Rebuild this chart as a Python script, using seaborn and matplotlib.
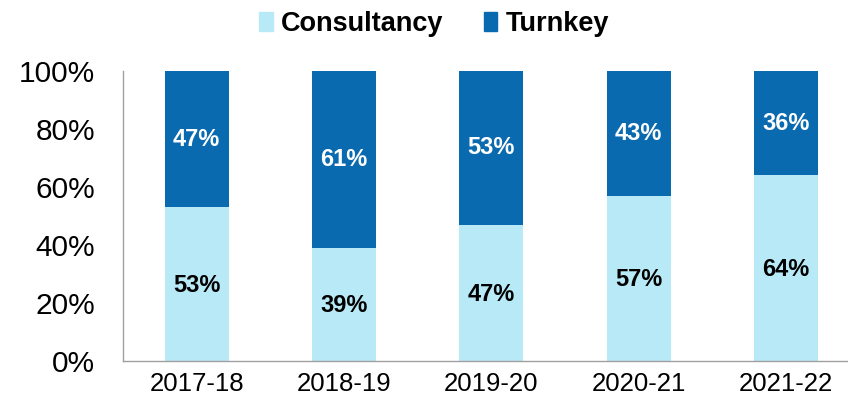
import matplotlib
matplotlib.use("Agg")
import matplotlib.pyplot as plt
import seaborn as sns
import pandas as pd
import numpy as np
from matplotlib.patches import Patch

years = ["2017-18", "2018-19", "2019-20", "2020-21", "2021-22"]
consultancy = [53, 39, 47, 57, 64]
turnkey = [47, 61, 53, 43, 36]

c_light = "#B8E9F6"
c_dark = "#0A6AAF"

sns.set_theme(style="white")
plt.rcParams['font.family'] = ['Liberation Sans', 'DejaVu Sans']
plt.rcParams['text.color'] = 'black'
plt.rcParams['xtick.labelcolor'] = 'black'
plt.rcParams['ytick.labelcolor'] = 'black'

fig = plt.figure(figsize=(8.48, 4.03), dpi=100)
ax = fig.add_axes([123/848, (403-361)/403, (848-123)/848, (361-71)/403])

df = pd.DataFrame({"year": years, "Consultancy": consultancy, "Turnkey": turnkey})
df["total"] = df["Consultancy"] + df["Turnkey"]

sns.barplot(data=df, x="year", y="total", color=c_dark, width=0.435, ax=ax, saturation=1, edgecolor="none")
sns.barplot(data=df, x="year", y="Consultancy", color=c_light, width=0.435, ax=ax, saturation=1, edgecolor="none")

for i, (c, t) in enumerate(zip(consultancy, turnkey)):
    ax.text(i, c / 2 - 0.5, f"{c}%", ha="center", va="center", fontsize=17, fontweight="bold", color="black")
    ax.text(i, c + t / 2, f"{t}%", ha="center", va="center", fontsize=17, fontweight="bold", color="white")

ax.set_ylim(0, 100)
ax.set_xlim(-0.5, 4.42)
ax.set_yticks(range(0, 101, 20))
ax.set_yticklabels([f"{v}%" for v in range(0, 101, 20)], fontsize=21.5)
ax.set_xticks(range(len(years)))
ax.set_xticklabels(years, fontsize=18.5)
ax.set_xticks(np.arange(-0.5, 4.5, 1), minor=True)
ax.tick_params(axis="x", which="major", length=0, pad=8, labelcolor="black")
ax.tick_params(axis="x", which="minor", length=7, width=1, color="#A0A0A0", direction="out")
ax.tick_params(axis="y", length=6, width=1, color="#A0A0A0", direction="out", pad=14, labelcolor="black")
ax.set_xlabel("")
ax.set_ylabel("")
for s in ["top", "right"]:
    ax.spines[s].set_visible(False)
for s in ["left", "bottom"]:
    ax.spines[s].set_color("#A0A0A0")
    ax.spines[s].set_linewidth(1)

handles = [Patch(color=c_light, label="Consultancy"), Patch(color=c_dark, label="Turnkey")]
leg = fig.legend(handles=handles, loc="center", bbox_to_anchor=(434/848, 1 - 24/403), ncol=2, frameon=False,
                 prop={"size": 19.5, "weight": "bold"}, handlelength=0.5, handleheight=0.7, handletextpad=0.3,
                 columnspacing=1.5)
for t in leg.get_texts():
    t.set_color("black")

fig.savefig("out.png", dpi=100)
